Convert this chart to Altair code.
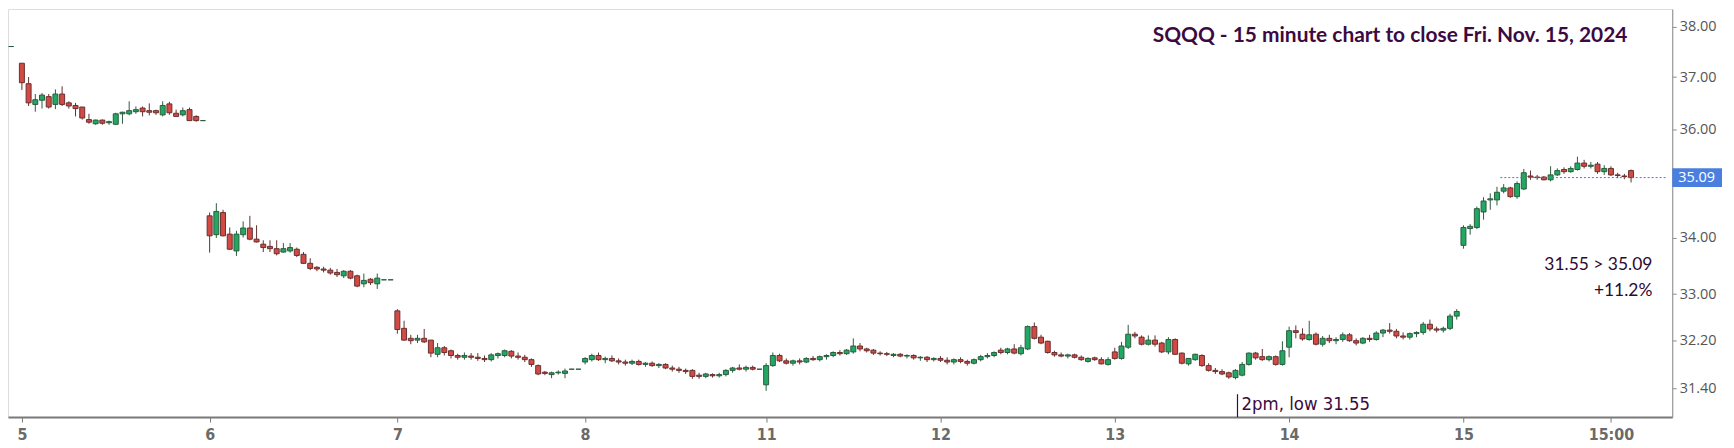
import altair as alt
import pandas as pd

# ---- data: (open, high, low, close) per 15-minute bar, per trading day ----
day_labels = ["5", "6", "7", "8", "11", "12", "13", "14", "15"]
day_start_slot = [0, 28, 56, 84, 111, 137, 163, 189, 215]
tick_1500_slot = 237

pre_dash = [(-1.6, 37.60)]

day5 = [(37.27,37.27,36.75,36.89),(36.87,37.00,36.44,36.50),(36.47,36.67,36.33,36.56),(36.55,36.69,36.39,36.65),
        (36.62,36.67,36.39,36.42),(36.47,36.76,36.38,36.67),(36.67,36.82,36.44,36.47),(36.50,36.53,36.39,36.44),
        (36.45,36.50,36.24,36.39),(36.42,36.42,36.18,36.21),(36.18,36.29,36.10,36.13),(36.10,36.18,36.08,36.17),
        (36.17,36.18,36.08,36.11),(36.12,36.16,36.08,36.14),(36.09,36.31,36.08,36.29),(36.29,36.33,36.10,36.32),
        (36.29,36.53,36.26,36.35),(36.33,36.43,36.29,36.37),(36.40,36.43,36.24,36.33),(36.35,36.49,36.26,36.32),
        (36.35,36.37,36.27,36.31),(36.27,36.53,36.24,36.45),(36.48,36.52,36.27,36.31),(36.30,36.37,36.24,36.24),
        (36.27,36.41,36.24,36.35),(36.37,36.41,36.16,36.16),(36.24,36.26,36.14,36.16),(36.16,36.16,36.16,36.16)]
day6 = [(34.39,34.45,33.73,34.03),(34.05,34.62,33.99,34.47),(34.45,34.50,34.02,34.03),(34.06,34.18,33.78,33.79),
        (33.76,34.12,33.67,34.06),(34.05,34.29,34.00,34.17),(34.17,34.39,33.95,33.97),(33.97,34.22,33.91,33.92),
        (33.88,33.95,33.74,33.82),(33.84,33.95,33.74,33.80),(33.80,33.95,33.68,33.71),(33.74,33.90,33.73,33.80),
        (33.76,33.90,33.73,33.82),(33.79,33.82,33.65,33.68),(33.70,33.74,33.53,33.54),(33.54,33.63,33.42,33.45),
        (33.47,33.49,33.40,33.44),(33.44,33.48,33.38,33.42),(33.42,33.46,33.34,33.37),(33.38,33.44,33.30,33.34),
        (33.32,33.42,33.28,33.40),(33.40,33.42,33.26,33.28),(33.32,33.34,33.12,33.14),(33.18,33.36,33.12,33.24),
        (33.26,33.28,33.16,33.20),(33.18,33.36,33.09,33.28),(33.25,33.25,33.25,33.25),(33.25,33.25,33.25,33.25)]
day7 = [(32.71,32.74,32.32,32.39),(32.41,32.54,32.20,32.21),(32.24,32.30,32.14,32.20),(32.21,32.30,32.16,32.24),
        (32.24,32.40,32.16,32.18),(32.21,32.21,31.92,31.99),(31.97,32.16,31.92,32.08),(32.08,32.11,31.95,32.00),
        (32.03,32.05,31.90,31.95),(31.95,31.98,31.88,31.92),(31.92,32.00,31.88,31.95),(31.94,31.99,31.88,31.92),
        (31.92,31.99,31.86,31.90),(31.90,31.95,31.84,31.88),(31.88,31.99,31.85,31.96),(31.95,32.00,31.90,31.98),
        (31.95,32.05,31.92,32.03),(32.02,32.04,31.90,31.94),(31.94,32.00,31.88,31.92),(31.92,31.96,31.84,31.88),
        (31.88,31.90,31.76,31.80),(31.78,31.80,31.62,31.64),(31.67,31.69,31.62,31.65),(31.63,31.68,31.57,31.66),
        (31.66,31.70,31.63,31.67),(31.65,31.73,31.57,31.69),(31.72,31.72,31.72,31.72),(31.72,31.72,31.72,31.72)]
day8 = [(31.84,31.92,31.80,31.90),(31.88,31.98,31.85,31.95),(31.95,32.00,31.86,31.88),(31.88,31.93,31.82,31.90),
        (31.90,31.95,31.84,31.86),(31.86,31.90,31.80,31.84),(31.84,31.88,31.78,31.82),(31.82,31.88,31.79,31.85),
        (31.85,31.88,31.78,31.80),(31.80,31.84,31.76,31.82),(31.82,31.85,31.76,31.78),(31.78,31.82,31.74,31.80),
        (31.80,31.82,31.72,31.74),(31.74,31.78,31.68,31.72),(31.72,31.76,31.66,31.70),(31.70,31.73,31.64,31.68),
        (31.70,31.72,31.56,31.60),(31.62,31.66,31.56,31.60),(31.60,31.66,31.57,31.64),(31.63,31.65,31.58,31.61),
        (31.61,31.66,31.58,31.63),(31.63,31.72,31.60,31.70),(31.70,31.76,31.66,31.74),(31.74,31.80,31.70,31.72),
        (31.72,31.78,31.68,31.75),(31.75,31.78,31.70,31.72),(31.72,31.72,31.72,31.72)]
day11 = [(31.46,31.82,31.36,31.78),(31.78,32.00,31.76,31.95),(31.95,31.98,31.84,31.86),(31.86,31.90,31.80,31.82),
         (31.82,31.88,31.78,31.86),(31.86,31.90,31.80,31.84),(31.84,31.92,31.82,31.90),(31.90,31.94,31.86,31.88),
         (31.88,31.95,31.85,31.93),(31.93,31.97,31.88,31.95),(31.95,32.02,31.92,32.00),(32.00,32.04,31.95,31.98),
         (31.98,32.06,31.96,32.04),(32.01,32.24,31.98,32.11),(32.11,32.16,32.02,32.06),(32.06,32.08,32.00,32.03),
         (32.04,32.06,31.96,31.99),(31.99,32.02,31.95,31.98),(31.98,32.01,31.94,31.97),(31.95,31.99,31.92,31.97),
         (31.97,31.99,31.92,31.94),(31.94,31.97,31.90,31.95),(31.95,31.97,31.88,31.91),(31.91,31.94,31.86,31.92),
         (31.92,31.94,31.84,31.88),(31.88,31.92,31.85,31.90)]
day12 = [(31.90,31.94,31.84,31.87),(31.87,31.92,31.80,31.84),(31.84,31.90,31.80,31.88),(31.88,31.92,31.82,31.85),
         (31.85,31.88,31.78,31.82),(31.82,31.90,31.80,31.88),(31.88,31.96,31.85,31.93),(31.93,31.99,31.90,31.95),
         (31.95,32.02,31.92,32.00),(32.04,32.08,31.97,32.00),(32.00,32.08,31.97,32.06),(32.06,32.14,31.97,31.99),
         (31.98,32.13,31.95,32.08),(32.06,32.46,32.04,32.44),(32.44,32.51,32.22,32.24),(32.26,32.30,32.14,32.16),
         (32.19,32.20,31.98,32.00),(32.00,32.03,31.93,31.96),(31.96,32.00,31.92,31.94),(31.94,31.98,31.90,31.96),
         (31.96,31.98,31.90,31.92),(31.92,31.95,31.86,31.88),(31.85,31.92,31.83,31.90),(31.91,31.93,31.86,31.88),
         (31.88,31.92,31.80,31.81),(31.80,31.92,31.78,31.88)]
day13 = [(32.01,32.08,31.88,31.90),(31.90,32.18,31.88,32.11),(32.09,32.47,32.06,32.31),(32.31,32.35,32.24,32.28),
         (32.26,32.29,32.12,32.14),(32.14,32.29,32.12,32.21),(32.21,32.29,32.10,32.14),(32.16,32.18,31.99,32.01),
         (32.01,32.26,31.97,32.22),(32.22,32.24,31.96,31.97),(31.99,32.00,31.80,31.82),(31.81,31.90,31.78,31.90),
         (31.88,31.98,31.86,31.97),(31.95,31.97,31.76,31.78),(31.78,31.82,31.68,31.70),(31.70,31.74,31.64,31.68),
         (31.68,31.72,31.62,31.64),(31.66,31.68,31.56,31.59),(31.58,31.72,31.55,31.70),(31.62,31.84,31.60,31.80),
         (31.80,32.00,31.78,31.99),(31.99,32.01,31.88,31.91),(31.93,32.06,31.86,31.88),(31.88,31.95,31.85,31.93),
         (31.93,31.95,31.78,31.80),(31.80,32.19,31.78,32.03)]
day14 = [(32.09,32.44,31.92,32.37),(32.37,32.46,32.24,32.34),(32.31,32.41,32.20,32.23),(32.22,32.54,32.20,32.30),
         (32.31,32.34,32.12,32.14),(32.14,32.28,32.10,32.24),(32.24,32.30,32.16,32.20),(32.20,32.26,32.14,32.22),
         (32.22,32.34,32.18,32.30),(32.30,32.33,32.18,32.20),(32.20,32.24,32.12,32.16),(32.16,32.26,32.14,32.24),
         (32.24,32.30,32.18,32.22),(32.22,32.36,32.20,32.33),(32.33,32.40,32.26,32.38),(32.38,32.50,32.32,32.36),
         (32.36,32.40,32.24,32.28),(32.28,32.34,32.22,32.26),(32.26,32.34,32.22,32.32),(32.32,32.36,32.26,32.34),
         (32.34,32.52,32.30,32.48),(32.48,32.56,32.36,32.40),(32.40,32.44,32.34,32.38),(32.38,32.44,32.34,32.41),
         (32.41,32.66,32.38,32.62),(32.62,32.74,32.56,32.70)]
day15 = [(33.86,34.22,33.80,34.18),(34.16,34.24,34.05,34.20),(34.18,34.56,34.15,34.52),(34.46,34.73,34.32,34.66),
         (34.68,34.80,34.50,34.70),(34.68,34.92,34.58,34.82),(34.84,34.97,34.80,34.90),(34.90,34.92,34.72,34.74),
         (34.74,35.02,34.70,34.98),(34.88,35.25,34.86,35.18),(35.12,35.22,35.05,35.10),(35.10,35.14,35.05,35.09),
         (35.10,35.12,35.04,35.05),(35.05,35.30,35.02,35.14),(35.14,35.26,35.12,35.22),(35.24,35.28,35.16,35.20),
         (35.20,35.30,35.18,35.26),(35.24,35.48,35.22,35.36),(35.36,35.42,35.26,35.30),(35.30,35.38,35.26,35.32),
         (35.34,35.38,35.16,35.20),(35.20,35.32,35.14,35.26),(35.26,35.30,35.12,35.14),(35.14,35.18,35.08,35.13),
         (35.12,35.16,35.06,35.11),(35.22,35.24,35.00,35.09)]

days = [day5, day6, day7, day8, day11, day12, day13, day14, day15]

last_price = 35.09
title_text = "SQQQ - 15 minute chart to close Fri. Nov. 15, 2024"
note1 = "31.55 > 35.09"
note2 = "+11.2%"
low_note = "2pm, low 31.55"
low_slot = 181.3
y_ticks = [38.0, 37.0, 36.0, 34.0, 33.0, 32.2, 31.4]

# ---- build table ----
rows = []
for start, bars in zip(day_start_slot, days):
    for i, (o, h, l, c) in enumerate(bars):
        rows.append({"slot": start + i, "o": o, "h": h, "l": l, "c": c})
for s, p in pre_dash:
    rows.append({"slot": s, "o": p, "h": p, "l": p, "c": p})
df = pd.DataFrame(rows)

tick_vals = day_start_slot + [tick_1500_slot]
tick_names = day_labels + ["15:00"]
label_expr = " : ".join(
    [f"datum.value == {v} ? '{n}'" for v, n in zip(tick_vals, tick_names)]) + " : ''"

W, H = 1672, 410
xs = alt.Scale(domain=[-1.33, 245.4], nice=False, zero=False)
ys = alt.Scale(type="log", domain=[31.01, 38.25], nice=False)

NARROW = "Liberation Sans Narrow, DejaVu Sans Condensed, Roboto, sans-serif"

x_enc = alt.X("slot:Q", scale=xs,
              axis=alt.Axis(values=tick_vals, labelExpr=label_expr, grid=False,
                            domainColor="#7a7a7a", domainWidth=2, tickColor="#7a7a7a",
                            tickSize=5, labelColor="#6a6a6a", labelFontSize=16,
                            labelFont=NARROW, labelFontWeight="bold",
                            labelPadding=4, title=None))

base = alt.Chart(df)
wick = base.mark_rule(strokeWidth=1).encode(
    x=x_enc,
    y=alt.Y("l:Q", scale=ys,
            axis=alt.Axis(orient="right", values=y_ticks, format=".2f", grid=False,
                          domainColor="#8c8c8c", tickColor="#8c8c8c", tickSize=4,
                          labelColor="#555555", labelFontSize=14.5, labelFont="Open Sans",
                          labelPadding=3, title=None)),
    y2="h:Q",
    color=alt.condition("datum.c >= datum.o", alt.value("#2f5a40"), alt.value("#5e3030")),
)
body = base.mark_bar(size=5, strokeWidth=1).encode(
    x="slot:Q",
    y=alt.Y("o:Q", scale=ys),
    y2="c:Q",
    fill=alt.condition("datum.c >= datum.o", alt.value("#22a862"), alt.value("#d24a44")),
    stroke=alt.condition("datum.c >= datum.o", alt.value("#2a5c3e"), alt.value("#6a2e2e")),
)

lp = pd.DataFrame({"p": [last_price], "s0": [220.5], "s1": [245.4], "lab": [f"{last_price:.2f}"]})
lp_line = alt.Chart(lp).mark_rule(strokeDash=[2, 2], color="#4a78d6", strokeWidth=1).encode(
    x=alt.X("s0:Q", scale=xs), x2="s1:Q", y=alt.Y("p:Q", scale=ys))
lp_box = alt.Chart(lp).mark_bar(color="#4a7fe0", height=19, clip=False).encode(
    x=alt.value(W), x2=alt.value(W + 50), y=alt.Y("p:Q", scale=ys))
lp_box2 = alt.Chart(lp).mark_text(align="left", baseline="middle", color="white",
                                 fontSize=14.5, font="Open Sans", dx=6).encode(
    x=alt.value(W), y=alt.Y("p:Q", scale=ys), text="lab:N")

ttl = alt.Chart(pd.DataFrame({"t": [title_text]})).mark_text(
    align="right", baseline="middle", fontSize=21, fontWeight="bold", font="Lato",
    color="#3c0a40").encode(x=alt.value(1627), y=alt.value(27), text="t:N")
n1 = alt.Chart(pd.DataFrame({"t": [note1]})).mark_text(
    align="right", baseline="middle", fontSize=17.5, font="Lato", color="#2e0a30").encode(
    x=alt.value(1652), y=alt.value(257), text="t:N")
n2 = alt.Chart(pd.DataFrame({"t": [note2]})).mark_text(
    align="right", baseline="middle", fontSize=17.5, font="Lato", color="#2e0a30").encode(
    x=alt.value(1652), y=alt.value(283), text="t:N")

lowdf = pd.DataFrame({"s": [low_slot], "t": [low_note]})
low_line = alt.Chart(lowdf).mark_rule(color="#3c0a40", strokeWidth=1.2).encode(
    x=alt.X("s:Q", scale=xs), y=alt.value(387), y2=alt.value(410))
low_text = alt.Chart(lowdf).mark_text(align="left", baseline="middle", fontSize=18.5,
                                      font=NARROW, color="#3c0a40", dx=4).encode(
    x=alt.X("s:Q", scale=xs), y=alt.value(397), text="t:N")

chart = alt.layer(wick, body, lp_line, lp_box, lp_box2, ttl, n1, n2, low_line, low_text).properties(
    width=W, height=H, padding={"left": 0, "top": 0, "right": 54, "bottom": 30},
    autosize=alt.AutoSizeParams(type="none")
).configure_view(strokeWidth=0).configure(background="white")

chart.save("out.html", embed_options={"renderer": "svg", "actions": False})
